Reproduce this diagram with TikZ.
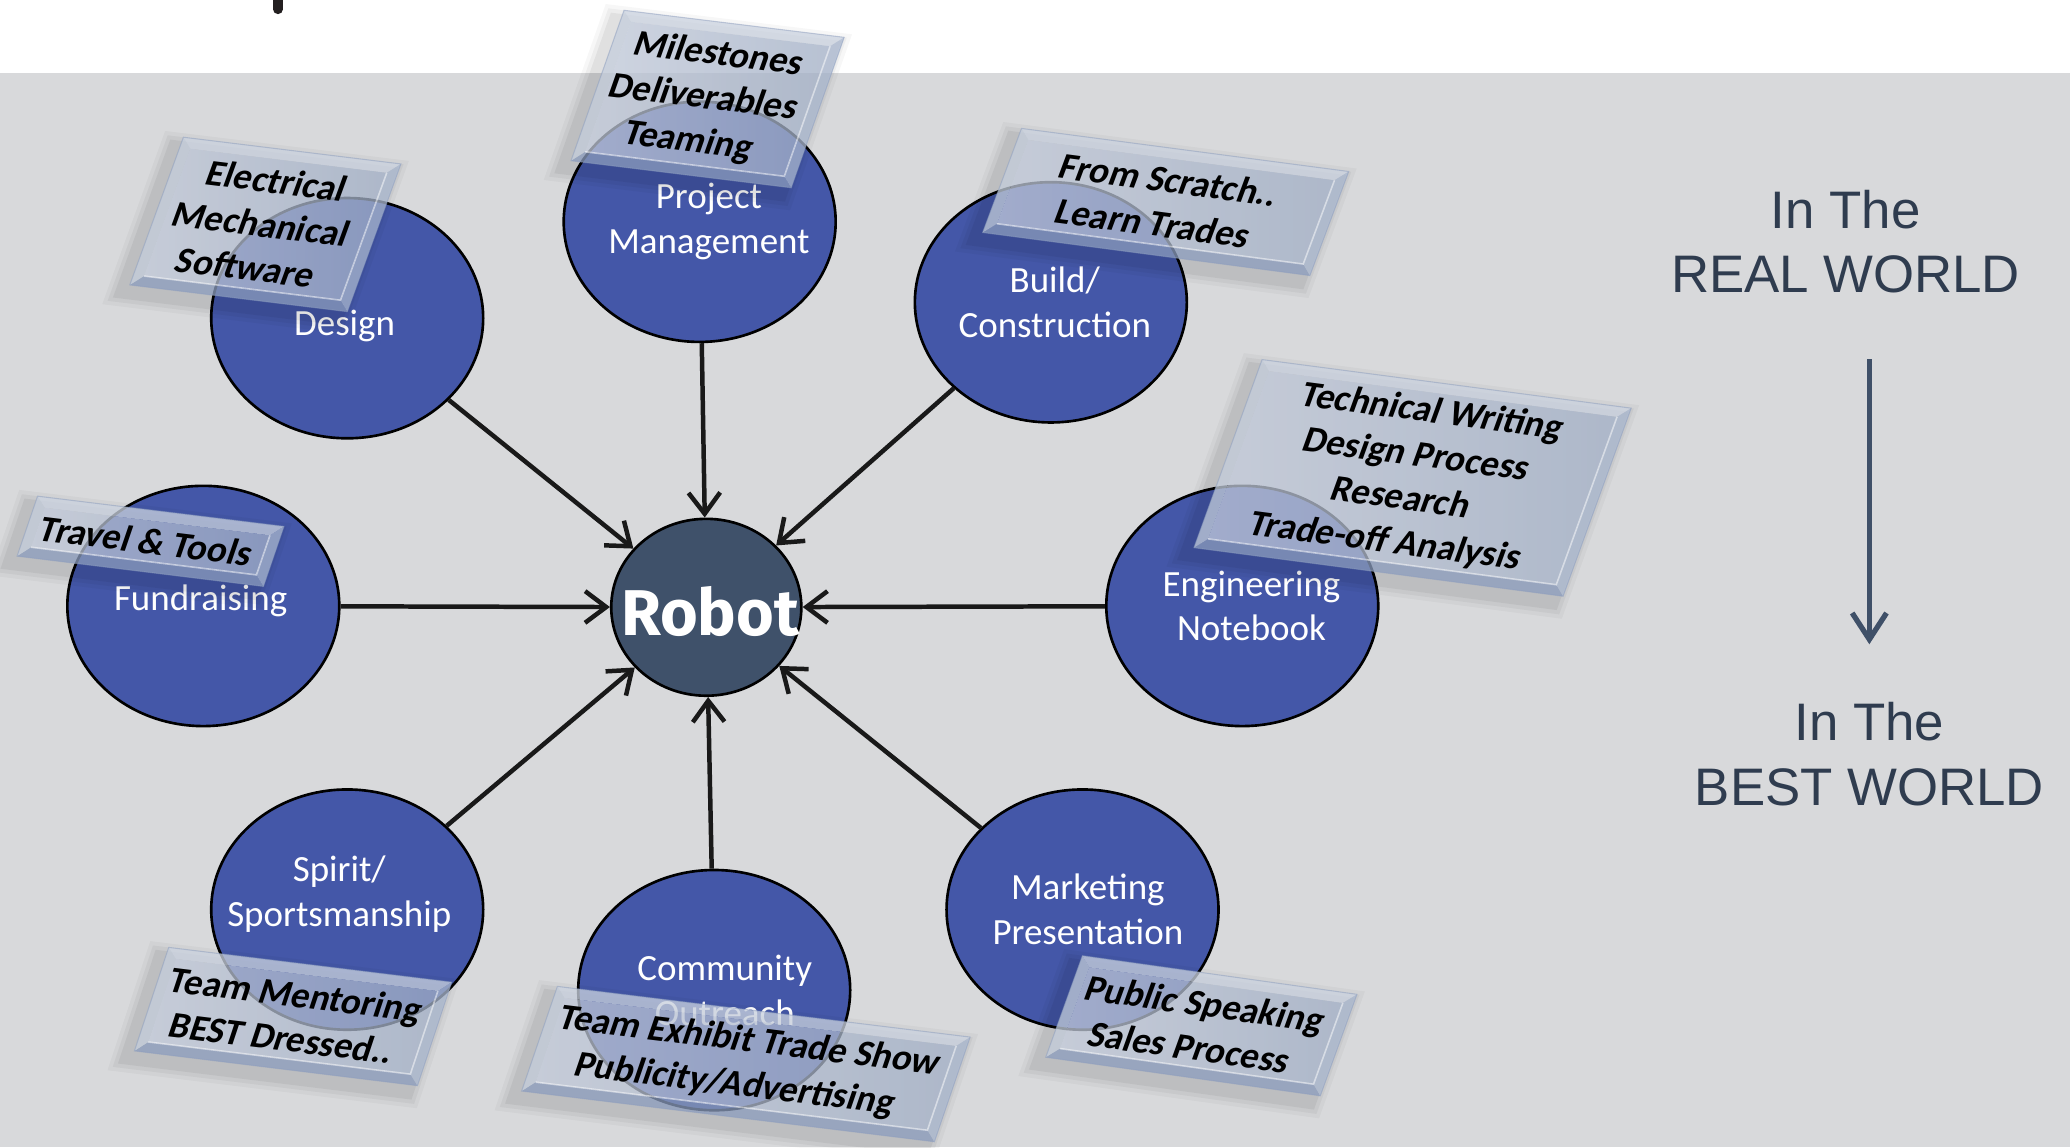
\documentclass[tikz,border=0pt]{standalone}
\usepackage{fontspec}
\setmainfont{Carlito}
\newfontfamily\arialfont{Liberation Sans}
\newfontfamily\robotfont{Fira Sans}
\usetikzlibrary{arrows.meta,shapes.geometric}

\definecolor{bg}{HTML}{D8D9DB}
\definecolor{ellblue}{HTML}{4457A8}
\definecolor{robotc}{HTML}{3F516A}
\definecolor{slate}{HTML}{2F3C4F}
\definecolor{arrowslate}{HTML}{3F5068}
\definecolor{facel}{HTML}{CAD2E2}
\definecolor{facer}{HTML}{A8B6CE}
\definecolor{bevtop}{HTML}{CED6E3}
\definecolor{bevleft}{HTML}{C4CEDC}
\definecolor{bevbot}{HTML}{8C9DBE}
\definecolor{bevright}{HTML}{ABB9D1}
\definecolor{strokec}{HTML}{231F20}

\tikzset{
  ell/.style={ellipse, draw=black, line width=1pt, fill=ellblue,
    minimum width=103pt, minimum height=91pt, inner sep=0pt},
  robotell/.style={ellipse, draw=black, line width=1pt, fill=robotc,
    minimum width=72pt, minimum height=67pt, inner sep=0pt},
  etext/.style={text=white, font=\fontsize{14}{17}\selectfont, align=center, inner sep=0pt},
  conn/.style={draw=black!90, line width=1.7pt, -{Straight Barb[length=8pt,width=12pt]}},
  boxtext/.style={font=\bfseries\fontsize{14}{17}\selectfont, align=center, text=black, inner sep=0pt},
  worldtext/.style={text=slate, font=\arialfont\fontsize{20}{24.5}\selectfont, align=center, inner sep=0pt},
  worldarrow/.style={draw=arrowslate, line width=2pt, -{Straight Barb[length=10pt,width=13pt]}}
}

% #1 name, #2 cx, #3 cy, #4 angle, #5 slant, #6 w, #7 h, #8 text
\newcommand\callout[8]{%
  \begin{scope}[shift={(#2,#3)}, rotate=-#4, xslant=#5]
    \pgfmathsetmacro\cbW{#6/2}
    \pgfmathsetmacro\cbH{#7/2}
    \pgfmathsetmacro\cbB{8}
    \foreach \e/\o in {10/0.03, 7/0.04, 4/0.05}{
      \fill[black, opacity=\o] (-\cbW-\e-5, -\cbH-\e+7) rectangle (\cbW+\e-5, \cbH+\e+7);
    }
    \fill[bevtop, fill opacity=0.75] (-\cbW,-\cbH) -- (\cbW,-\cbH) -- (\cbW-\cbB,-\cbH+\cbB) -- (-\cbW+\cbB,-\cbH+\cbB) -- cycle;
    \fill[bevbot, fill opacity=0.75] (-\cbW,\cbH) -- (\cbW,\cbH) -- (\cbW-\cbB,\cbH-\cbB) -- (-\cbW+\cbB,\cbH-\cbB) -- cycle;
    \fill[bevleft, fill opacity=0.75] (-\cbW,-\cbH) -- (-\cbW+\cbB,-\cbH+\cbB) -- (-\cbW+\cbB,\cbH-\cbB) -- (-\cbW,\cbH) -- cycle;
    \fill[bevright, fill opacity=0.75] (\cbW,-\cbH) -- (\cbW-\cbB,-\cbH+\cbB) -- (\cbW-\cbB,\cbH-\cbB) -- (\cbW,\cbH) -- cycle;
    \shade[left color=facel, right color=facer, fill opacity=0.72] (-\cbW+\cbB,-\cbH+\cbB) rectangle (\cbW-\cbB,\cbH-\cbB);
    \draw[white, opacity=0.5, line width=0.6pt] (\cbW-\cbB,-\cbH+\cbB) -- (\cbW-\cbB,\cbH-\cbB) -- (-\cbW+\cbB,\cbH-\cbB);
    \draw[bevbot, opacity=0.5, line width=0.4pt] (-\cbW,-\cbH) rectangle (\cbW,\cbH);
    \node[boxtext, transform shape] (#1) at (-3,0) {#8};
  \end{scope}}

\begin{document}
\begin{tikzpicture}[x=0.5pt,y=-0.5pt]
\useasboundingbox (0,0) rectangle (1568,869);
\fill[white] (0,0) rectangle (1568,869);
\fill[bg] (0,55) rectangle (1568,869);
\draw[strokec, line width=3.7pt, line cap=round] (210.5,-8) -- (210.5,7);

% ellipses
\node[ell] (design) at (263,241) {};
\node[ell] (pm) at (530,168) {};
\node[ell] (build) at (796,229) {};
\node[ell] (eng) at (941,459) {};
\node[ell] (fund) at (154,459) {};
\node[ell] (spirit) at (263,689) {};
\node[ell] (comm) at (541,750) {};
\node[ell] (mkt) at (820,689) {};
\node[robotell] (robot) at (535,460) {};
\node[anchor=base, inner sep=0pt, text=white, font=\robotfont\bfseries\fontsize{24.5}{25}\selectfont] (robotT) at (538,481) {Robot};

% connectors
\draw[conn] (design) -- (robot);
\draw[conn] (pm) -- (robot);
\draw[conn] (build) -- (robot);
\draw[conn] (eng) -- (robot);
\draw[conn] (fund) -- (robot);
\draw[conn] (spirit) -- (robot);
\draw[conn] (comm) -- (robot);
\draw[conn] (mkt) -- (robot);

% ellipse texts
\node[etext] (designT) at (261,247) {Design};
\node[etext] (pmT) at (537,168) {Project\\Management};
\node[etext] (buildT) at (799,229) {Build/\\Construction};
\node[etext] (engT) at (948,459) {Engineering\\Notebook};
\node[etext] (fundT) at (152,455) {Fundraising};
\node[etext] (spiritT) at (257,677) {Spirit/\\Sportsmanship};
\node[etext] (commT) at (549,750) {Community\\Outreach};
\node[etext] (mktT) at (824,689) {Marketing\\Presentation};

% callout boxes
\callout{elecB}{201}{170}{7}{0.23}{166}{116}{Electrical\\Mechanical\\Software}
\callout{milesB}{536}{75}{7}{0.22}{168}{118}{Milestones\\Deliverables\\Teaming}
\callout{scratchB}{883}{153}{7.5}{0.23}{250}{82}{From Scratch..\\Learn Trades}
\callout{techB}{1070}{362}{7.5}{0.22}{282}{148}{Technical Writing\\Design Process\\Research\\Trade-off Analysis}
\callout{travelB}{114}{410}{7}{0.21}{188}{47}{Travel \& Tools}
\callout{mentorB}{222}{770}{7}{0.20}{216}{81}{Team Mentoring\\BEST Dressed..}
\callout{exhibitB}{565}{806}{7}{0.21}{315}{82}{Team Exhibit Trade Show\\Publicity/Advertising}
\callout{speakB}{910}{777}{8}{0.21}{210}{80}{Public Speaking\\Sales Process}

% right side
\node[worldtext] (real) at (1398,183) {In The\\REAL WORLD};
\node[worldtext] (best) at (1416,571) {In The\\BEST WORLD};
\coordinate (arrTop) at (1416,272);
\coordinate (arrBot) at (1416,488);
\draw[worldarrow] (arrTop) -- (arrBot);
\end{tikzpicture}
\end{document}
